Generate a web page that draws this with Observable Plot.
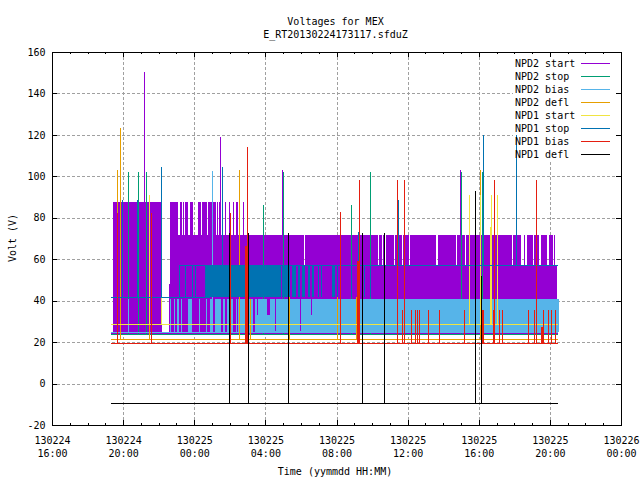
<!DOCTYPE html>
<html>
<head>
<meta charset="utf-8">
<script src="https://cdn.jsdelivr.net/npm/d3@7"></script>
<script src="https://cdn.jsdelivr.net/npm/@observablehq/plot@0.6"></script>
<style>
html,body{margin:0;padding:0;background:#fff}
svg{display:block}
svg text{shape-rendering:auto}
</style>
</head>
<body>
<div id="chart"></div>
<script>
// All times are hours since 130224 00:00; all values are volts.
const seriesNames = ["NPD2 start","NPD2 stop","NPD2 bias","NPD2 defl","NPD1 start","NPD1 stop","NPD1 bias","NPD1 defl"];
const seriesColors = ["#9400d3","#009e73","#56b4e9","#e69f00","#f0e442","#0072b2","#e51e10","#000000"];
const xTicks = [16,20,24,28,32,36,40,44,48];
const xTickLabels = ["130224\n16:00","130224\n20:00","130225\n00:00","130225\n04:00","130225\n08:00","130225\n12:00","130225\n16:00","130225\n20:00","130226\n00:00"];
const xMinor = [17,18,19,21,22,23,25,26,27,29,30,31,33,34,35,37,38,39,41,42,43,45,46,47];
const yTicks = [-20,0,20,40,60,80,100,120,140,160];
const runSpan = [19.32,44.48];

const startBase = 24.4;
const startFull88 = [[19.44,22.20]];
const startHigh88 = [[22.65,23.10],[23.21,23.32],[23.38,23.44],[23.49,23.66],[23.77,23.94],[24.23,24.39],[24.45,24.73],[24.79,25.24],[25.30,25.35],[25.41,25.52],[25.75,25.80],[25.97,26.03],[26.20,26.25],[26.37,26.48],[26.76,26.82]];
const startHigh72 = [[22.65,30.20],[30.25,32.68],[32.73,34.31],[34.37,34.54],[34.59,34.73],[34.79,35.21],[35.27,35.66],[35.72,36.06],[36.11,37.58],[37.73,38.71],[38.76,39.21],[39.27,41.86],[41.93,42.37],[42.54,42.61],[42.71,43.04],[43.10,43.38],[43.49,43.83],[43.94,44.17],[44.23,44.28]];
const startLow57 = [[22.65,44.40]];
const startLow48 = [[22.59,22.65]];
const startDip33 = [[27.55,27.60],[28.11,28.28],[30.59,30.65]];
const startDip25 = [[28.56,28.62],[29.97,30.03]];
const startSpikeT = [21.14,25.43,28.92,38.95];
const startSpikeV = [150.3,119,103.1,103.1];

const stopBase = 23.9;
const stopSpikeT = [20.24,20.81,21.26,27.85,28.98,32.81,33.88,39.00,40.16];
const stopSpikeV = [102.1,102.1,102.1,86.1,102.1,86.1,102.1,102.1,102.1];

const biasBase = 24.9;
const biasBlocks = [[22.65,22.71],[22.87,22.93],[23.04,23.16],[23.27,23.32],[23.66,23.89],[24.28,24.34],[24.68,24.73],[24.90,25.01],[25.18,25.52],[25.63,25.75],[25.86,25.97],[26.08,26.20],[26.37,26.42],[26.48,26.87],[27.04,27.32],[27.44,44.51]];
const biasShortT = [20.24];
const biasSpikeT = [24.98];
const biasSpikeV = [102.4];

const deflBase = 21.5;
const deflSpikeT = [19.62,19.79,21.43,26.51,27.12,29.32,32.02,33.09,40.07];
const deflSpikeV = [103.1,123.25,28.7,103.1,41,42,42,42,103.1];

const n1StartBase = 28.7;
const n1StartSpikeT = [21.43,22.10,39.45,40.07,40.64,41.03];
const n1StartSpikeV = [91,42,91,91,91,91];
const n1StartThick = [[40.64,40.74]];
const n1StartThickTop = 75.5;

const n1StopEarlyBase = 41.8;
const n1StopEarlySpan = [19.32,24.90];
const n1StopLateBase = 57.2;
const n1StopLateSpan = [23.16,44.48];
const n1StopBlocks = [[23.16,23.21],[23.49,23.55],[23.89,23.94],[24.06,24.11],[24.24,24.29],[24.60,24.65],[24.66,28.90],[28.96,29.30],[29.35,29.41],[29.48,29.75],[29.82,29.97],[30.05,30.24],[30.38,30.52],[30.63,30.76],[30.95,31.03],[31.14,31.19],[31.76,31.89],[32.02,32.07],[32.21,32.24],[32.79,32.85],[33.52,33.58],[33.86,33.92]];
const n1StopEarlyT = [19.93,20.76,22.10];
const n1StopEarlyV = [88.4,88.4,104.4];
const n1StopLateT = [25.54,33.20,35.45,40.19,42.05];
const n1StopLateV = [104.4,73.2,88.4,120,120];

const n1BiasBase = 19.6;
const n1BiasSpikeT = [19.65,21.54,25.99,26.95,32.19,33.26,35.40,35.79,40.81,43.17];
const n1BiasSpikeV = [82.4,82.4,82.4,114.2,82.8,98.2,98.2,98.2,98.2,98.2];
const n1BiasThick = [[26.85,26.97],[33.15,33.27],[40.13,40.28],[40.81,40.89],[43.52,43.60]];
const n1BiasThickV = [66.5,59.2,35.5,35.5,27.4];
const n1BiasShortT = [35.68,36.17,36.40,36.52,36.64,37.14,37.76,39.17,39.79,41.09,41.31,42.72,43.06,43.57,43.85,44.02,44.24];
const n1BiasShortV = 35.5;

const n1DeflBase = -9.4;
const n1DeflSpikeT = [25.93,27.00,29.27,33.43,34.67,39.74,40.13];
const n1DeflSpikeV = [72.5,72.5,72.5,72.5,72.5,92.9,52];

const spikes = (ts, vs, base) => ts.map((t, i) => ({t, v: Array.isArray(vs) ? vs[i] : vs, base}));
const blocks = (list, lo, hi) => list.map(([a, b]) => ({a, b, lo, hi}));

const band = (rows, fill) => Plot.rect(rows, {x1: "a", x2: "b", y1: "lo", y2: "hi", fill, stroke: "none"});
const rule = (rows, stroke) => Plot.ruleX(rows, {x: "t", y1: "base", y2: "v", stroke, strokeWidth: 1, dx: 0.4});
const flat = (v, span, stroke) => Plot.ruleY([v], {x1: span[0], x2: span[1], stroke, strokeWidth: 1});

const [PUR, GRN, LBL, ORG, YEL, BLU, RED, BLK] = seriesColors;
const legendTop = 154.7, legendStep = 6.27;
const legendRows = seriesNames.map((name, i) => ({name, v: legendTop - i * legendStep}));

const chart = Plot.plot({
  width: 640, height: 480,
  marginLeft: 52, marginRight: 19, marginTop: 52, marginBottom: 55,
  x: {type: "linear", domain: [16, 48], axis: null},
  y: {domain: [-20, 160], axis: null},
  style: {fontFamily: "'DejaVu Sans Mono', monospace", fontSize: "10px", background: "#fff", color: "#000", shapeRendering: "crispEdges"},
  marks: [
    Plot.ruleY(yTicks.slice(1, -1), {stroke: "#a0a0a0", strokeDasharray: "3,2"}),
    Plot.ruleX(xTicks.slice(1, -1), {stroke: "#a0a0a0", strokeDasharray: "3,2"}),
    Plot.rect([{a: 41.9, b: 47.95, lo: 107.5, hi: 159.5}], {x1: "a", x2: "b", y1: "lo", y2: "hi", fill: "#fff"}),

    band(blocks(startFull88, startBase, 87.6), PUR),
    band(blocks(startHigh88, 57, 87.6), PUR),
    band(blocks(startHigh72, 57, 71.7), PUR),
    band(blocks(startLow57, startBase, 57.2), PUR),
    band(blocks(startLow48, startBase, 48), PUR),
    rule(spikes(startSpikeT, startSpikeV, startBase), PUR),
    flat(startBase, runSpan, PUR),

    rule(spikes(stopSpikeT, stopSpikeV, stopBase), GRN),
    flat(stopBase, runSpan, GRN),

    band(blocks(biasBlocks, biasBase, 40.8), LBL),
    rule(spikes(biasShortT, 40.8, biasBase), LBL),
    rule(spikes(biasSpikeT, biasSpikeV, biasBase), LBL),
    flat(biasBase, runSpan, LBL),

    band(blocks(startDip33, 33, 40.8), PUR),
    band(blocks(startDip25, 25.2, 40.8), PUR),

    rule(spikes(deflSpikeT, deflSpikeV, deflBase), ORG),
    flat(deflBase, runSpan, ORG),

    rule(spikes(n1StartSpikeT, n1StartSpikeV, n1StartBase), YEL),
    band(blocks(n1StartThick, n1StartBase, n1StartThickTop), YEL),
    flat(n1StartBase, runSpan, YEL),

    band(blocks(n1StopBlocks, n1StopEarlyBase, n1StopLateBase), BLU),
    rule(spikes(n1StopEarlyT, n1StopEarlyV, n1StopEarlyBase), BLU),
    rule(spikes(n1StopLateT, n1StopLateV, n1StopLateBase), BLU),
    flat(n1StopEarlyBase, n1StopEarlySpan, BLU),
    flat(n1StopLateBase, n1StopLateSpan, BLU),

    rule(spikes(n1BiasSpikeT, n1BiasSpikeV, n1BiasBase), RED),
    rule(spikes(n1BiasShortT, n1BiasShortV, n1BiasBase), RED),
    Plot.rect(n1BiasThick.map(([a, b], i) => ({a, b, lo: n1BiasBase, hi: n1BiasThickV[i]})), {x1: "a", x2: "b", y1: "lo", y2: "hi", fill: RED}),
    flat(n1BiasBase, runSpan, RED),

    rule(spikes(n1DeflSpikeT, n1DeflSpikeV, n1DeflBase), BLK),
    flat(n1DeflBase, runSpan, BLK),

    Plot.ruleX(xTicks, {x: d => d, y1: -20, y2: -17.6, stroke: "#000"}),
    Plot.ruleX(xTicks, {x: d => d, y1: 160, y2: 157.6, stroke: "#000"}),
    Plot.ruleX(xMinor, {x: d => d, y1: -20, y2: -18.8, stroke: "#000"}),
    Plot.ruleX(xMinor, {x: d => d, y1: 160, y2: 158.8, stroke: "#000"}),
    Plot.ruleY(yTicks, {y: d => d, x1: 16, x2: 16.28, stroke: "#000"}),
    Plot.ruleY(yTicks, {y: d => d, x1: 48, x2: 47.72, stroke: "#000"}),
    Plot.frame({stroke: "#000"}),

    Plot.text(xTicks, {x: d => d, text: (d, i) => xTickLabels[i], frameAnchor: "bottom", dy: 9, lineAnchor: "top", lineHeight: 1.3, fill: "#000"}),
    Plot.text(yTicks, {y: d => d, text: d => String(d), frameAnchor: "left", textAnchor: "end", dx: -7, fill: "#000"}),

    Plot.text(["Voltages for MEX"], {frameAnchor: "top", dx: -1.5, dy: -35, fill: "#000"}),
    Plot.text(["E_RT20130224173117.sfduZ"], {frameAnchor: "top", dx: -1.5, dy: -22, fill: "#000"}),
    Plot.text(["Volt (V)"], {frameAnchor: "left", textAnchor: "middle", rotate: -90, dx: -40, dy: -1, fill: "#000"}),
    Plot.text(["Time (yymmdd HH:MM)"], {frameAnchor: "bottom", dx: -2, dy: 49, fill: "#000"}),

    Plot.text(legendRows, {x: 42.01, y: "v", text: "name", textAnchor: "start", fill: "#000"}),
    ...legendRows.map((row, i) => Plot.ruleY([row.v], {x1: 45.75, x2: 47.36, stroke: seriesColors[i], strokeWidth: 1}))
  ]
});
document.getElementById("chart").appendChild(chart);
</script>
</body>
</html>
